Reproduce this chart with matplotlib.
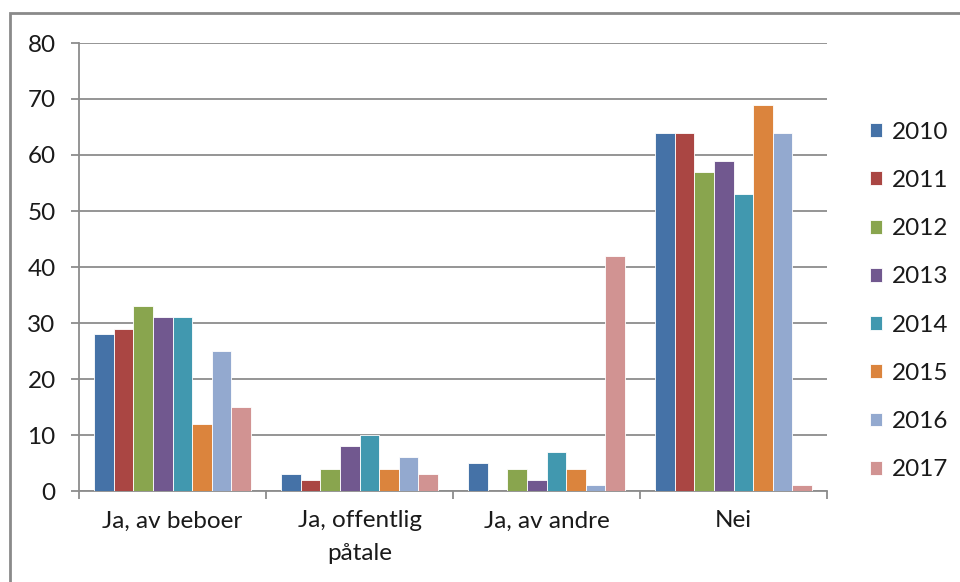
import numpy as np
import matplotlib.pyplot as plt
from matplotlib.patches import Rectangle

plt.rcParams["font.family"] = ["Lato", "DejaVu Sans"]

# Answer categories along the x-axis
categories = ["Ja, av beboer", "Ja, offentlig\npåtale", "Ja, av andre", "Nei"]

# Share (%) per year and category
years = ["2010", "2011", "2012", "2013", "2014", "2015", "2016", "2017"]
v2010 = [28, 3, 5, 64]
v2011 = [29, 2, 0, 64]
v2012 = [33, 4, 4, 57]
v2013 = [31, 8, 2, 59]
v2014 = [31, 10, 7, 53]
v2015 = [12, 4, 4, 69]
v2016 = [25, 6, 1, 64]
v2017 = [15, 3, 42, 1]
series = [v2010, v2011, v2012, v2013, v2014, v2015, v2016, v2017]

colors = ["#4572A7", "#AA4643", "#89A54E", "#71588F",
          "#4198AF", "#DB843D", "#93A9CF", "#D19392"]

grid_color = "#8c8c8c"
text_color = "#1a1a1a"
fs = 17.5

fig = plt.figure(figsize=(9.6, 5.82), dpi=100)
ax = fig.add_axes([79 / 960, 1 - 491 / 582, (827 - 79) / 960, (491 - 43) / 582])

n = len(series)
bar_w = 1 / 9.55
x = np.arange(len(categories))
for i, (vals, col, yr) in enumerate(zip(series, colors, years)):
    offs = (i - (n - 1) / 2) * bar_w
    ax.bar(x + offs, vals, width=bar_w, color=col, edgecolor="white",
           linewidth=0.6, label=yr, zorder=3)

ax.set_xlim(-0.5, len(categories) - 0.5)
ax.set_ylim(0, 80)
ax.set_yticks(np.arange(0, 81, 10))
ax.yaxis.grid(True, color=grid_color, linewidth=1.3, zorder=0)
ax.set_axisbelow(True)

# category labels centred, tick marks between categories
ax.set_xticks(x)
ax.set_xticklabels(categories, fontsize=fs, color=text_color, linespacing=1.7)
ax.tick_params(axis="x", length=0, pad=14)
ax.set_xticks(np.arange(-0.5, len(categories), 1), minor=True)
ax.tick_params(axis="x", which="minor", length=5.8, width=1.3, color=grid_color)
ax.tick_params(axis="y", length=5.8, width=1.3, color=grid_color,
               labelsize=fs, labelcolor=text_color, pad=11)

for side in ["top", "right"]:
    ax.spines[side].set_visible(False)
for side in ["left", "bottom"]:
    ax.spines[side].set_color(grid_color)
    ax.spines[side].set_linewidth(1.3)

leg = ax.legend(loc="center left", bbox_to_anchor=(1.057, 0.424), frameon=False,
                fontsize=fs, handlelength=0.5, handleheight=0.5,
                handletextpad=0.4, labelspacing=1.12, borderaxespad=0,
                borderpad=0)
for t in leg.get_texts():
    t.set_color(text_color)

# outer chart frame
fig.patches.append(Rectangle((10 / 960, -0.1), 1.2, 1 - 13 / 582 + 0.1,
                             transform=fig.transFigure, fill=False,
                             edgecolor="#8a8a8a", linewidth=2))

fig.savefig("out.png", dpi=100)
